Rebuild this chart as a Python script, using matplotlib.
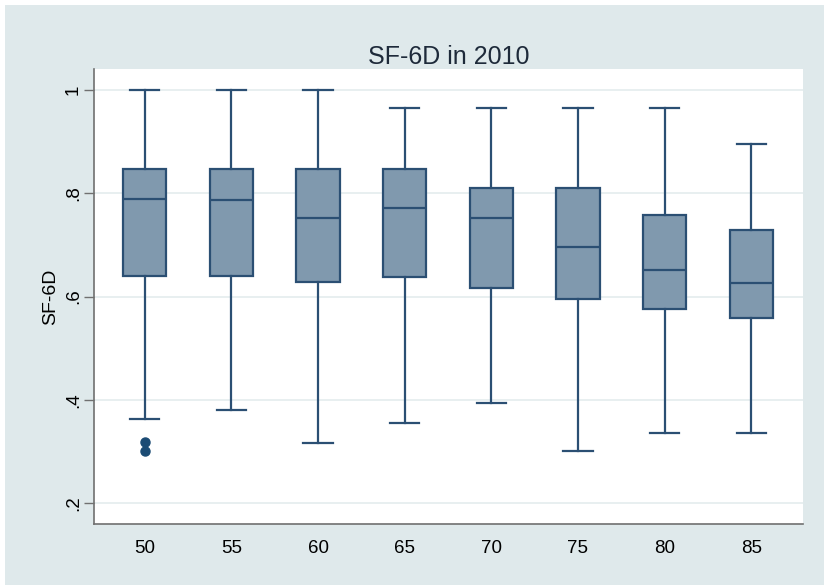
import matplotlib.pyplot as plt
from matplotlib.patches import Rectangle

# SF-6D by age group, 2010
ages = ["50", "55", "60", "65", "70", "75", "80", "85"]
whislo = [0.363, 0.380, 0.317, 0.355, 0.393, 0.301, 0.335, 0.335]
q1 = [0.639, 0.639, 0.629, 0.637, 0.616, 0.596, 0.576, 0.558]
med = [0.789, 0.786, 0.753, 0.772, 0.752, 0.696, 0.652, 0.626]
q3 = [0.846, 0.846, 0.846, 0.846, 0.810, 0.810, 0.757, 0.729]
whishi = [1.0, 1.0, 1.0, 0.965, 0.965, 0.965, 0.965, 0.895]
fliers = [[0.319, 0.301], [], [], [], [], [], [], []]

yticks = [0.2, 0.4, 0.6, 0.8, 1.0]
ylabels = [".2", ".4", ".6", ".8", "1"]

bg = "#dfe9eb"
edge = "#2b4f73"
fill = "#8099ae"

plt.rcParams['font.family'] = ['Liberation Sans', 'DejaVu Sans']

fig = plt.figure(figsize=(8.24, 5.85), dpi=100, facecolor="white")
fig.patches.append(Rectangle((5 / 824, 0), 1, 1 - 5 / 585, transform=fig.transFigure,
                             facecolor=bg, edgecolor="none", zorder=-10))
ax = fig.add_axes([94.3 / 824, 1 - 524.3 / 585, 708.4 / 824, 455 / 585])

stats = []
for i in range(len(ages)):
    stats.append(dict(whislo=whislo[i], q1=q1[i], med=med[i], q3=q3[i],
                      whishi=whishi[i], fliers=fliers[i], label=ages[i]))

ax.bxp(stats, positions=range(1, len(ages) + 1), widths=0.5, capwidths=0.34,
       patch_artist=True,
       boxprops=dict(facecolor=fill, edgecolor=edge, linewidth=1.6),
       medianprops=dict(color=edge, linewidth=1.6),
       whiskerprops=dict(color=edge, linewidth=1.6),
       capprops=dict(color=edge, linewidth=1.6),
       flierprops=dict(marker="o", markerfacecolor="#1b4b74", markeredgecolor="#1b4b74",
                       markersize=6.5))

ax.set_xlim(0.418, 8.594)
ax.set_ylim(0.159, 1.040)
ax.set_yticks(yticks)
ax.set_yticklabels(ylabels, rotation=90, va="center", fontsize=13.5)
ax.tick_params(axis="y", length=7, width=1, color="#707070", pad=2)
ax.tick_params(axis="x", length=0, labelsize=13.5, pad=11)
ax.grid(axis="y", color="#e4ecee", linewidth=1.2)
ax.set_axisbelow(True)

for s in ["top", "right"]:
    ax.spines[s].set_visible(False)
for s in ["left", "bottom"]:
    ax.spines[s].set_color("#707070")
    ax.spines[s].set_linewidth(1.2)

ax.set_ylabel("SF-6D", fontsize=14, labelpad=4)
ax.set_title("SF-6D in 2010", fontsize=18, pad=1, color="#1e2a3a")

fig.savefig("out.png", dpi=100, facecolor=fig.get_facecolor())
